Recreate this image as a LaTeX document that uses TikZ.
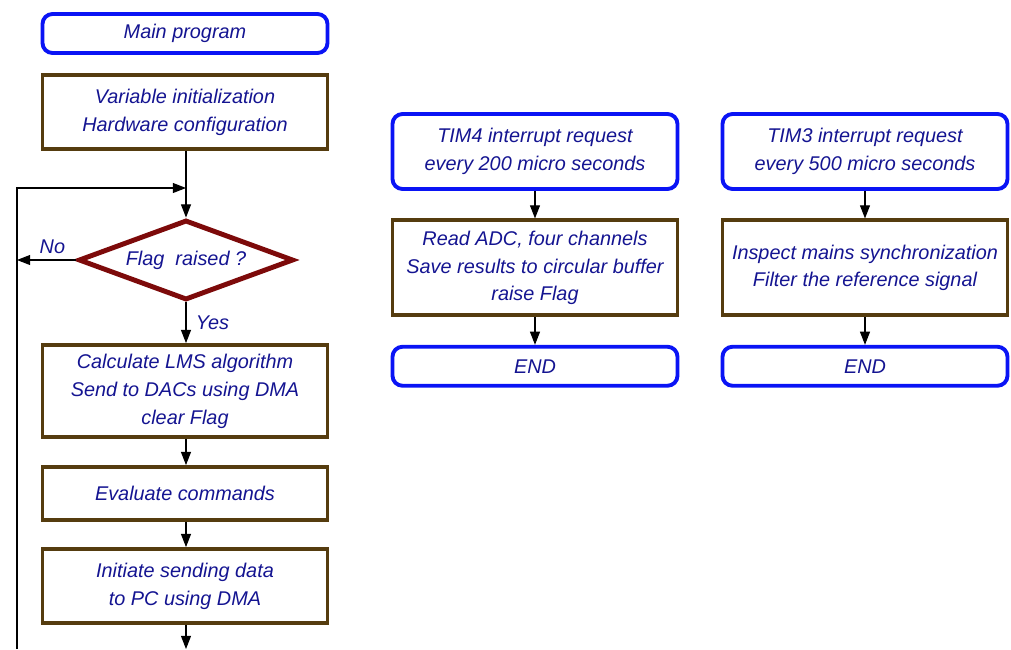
\documentclass[tikz,border=0pt]{standalone}
\usepackage{fontspec}
\setmainfont{Liberation Sans}
\usetikzlibrary{shapes.geometric,arrows.meta,positioning}
\definecolor{irqblue}{RGB}{10,20,245}
\definecolor{stepbrown}{RGB}{85,60,15}
\definecolor{flagred}{RGB}{125,10,10}
\definecolor{txtnavy}{RGB}{20,20,145}

\begin{document}
\begin{tikzpicture}[
  every node/.style={font=\fontsize{11.3}{15.9}\selectfont\itshape,
                     text=txtnavy,align=center},
  term/.style={draw=irqblue,line width=2.2pt,rounded corners=0.2cm,
               minimum width=5.7cm,minimum height=0.78cm},
  proc/.style={draw=stepbrown,line width=2.2pt,
               minimum width=5.7cm,minimum height=1.48cm},
  cond/.style={draw=flagred,line width=2.8pt,diamond,aspect=2.6,
               minimum width=4.3cm,minimum height=1.6cm,inner sep=0pt},
  arr/.style={-{Triangle[length=7.5pt,width=5.7pt]},line width=0.6pt}
]
\useasboundingbox (0,0) rectangle (20.22,-12.98);

% main loop
\node[term] (main) at (3.7,-0.67) {Main program};
\node[proc] (init) at (3.7,-2.24) {Variable initialization\\Hardware configuration};
\node[cond] (flag) at (3.72,-5.2) {Flag~ raised ?};
\node[proc,minimum height=1.84cm] (lms) at (3.7,-7.82)
  {Calculate LMS algorithm\\Send to DACs using DMA\\clear Flag};
\node[proc,minimum height=1.06cm] (eval) at (3.7,-9.87) {Evaluate commands};
\node[proc] (send) at (3.7,-11.72) {Initiate sending data\\to PC using DMA};

\coordinate (loopend) at (3.72,-12.98);
\coordinate (loopbot) at (0.34,-12.98);
\coordinate (loopin)  at (3.72,-3.76);

\draw[arr] (init.south -| flag) -- (flag);
\draw[arr] (flag.west) -- node[above,pos=0.4]{No} (flag.west -| loopbot);
\draw[arr] (flag) -- node[right,xshift=2pt]{Yes} (lms.north -| flag);
\draw[arr] (lms.south -| flag) -- (eval.north -| flag);
\draw[arr] (eval.south -| flag) -- (send.north -| flag);
\draw[arr] (send.south -| flag) -- (loopend);
\draw[arr] (loopbot) |- (loopin);

% TIM4 interrupt
\node[term,minimum height=1.5cm] (tim4) at (10.7,-3.03)
  {TIM4 interrupt request\\every 200 micro seconds};
\node[proc,minimum height=1.9cm,below=0.55cm of tim4] (adc)
  {Read ADC, four channels\\Save results to circular buffer\\raise Flag};
\node[term,below=0.55cm of adc] (end4) {END};
\draw[arr] (tim4) -- (adc);
\draw[arr] (adc) -- (end4);

% TIM3 interrupt
\node[term,minimum height=1.5cm] (tim3) at (17.3,-3.03)
  {TIM3 interrupt request\\every 500 micro seconds};
\node[proc,minimum height=1.9cm,below=0.55cm of tim3] (sync)
  {Inspect mains synchronization\\Filter the reference signal};
\node[term,below=0.55cm of sync] (end3) {END};
\draw[arr] (tim3) -- (sync);
\draw[arr] (sync) -- (end3);
\end{tikzpicture}
\end{document}
